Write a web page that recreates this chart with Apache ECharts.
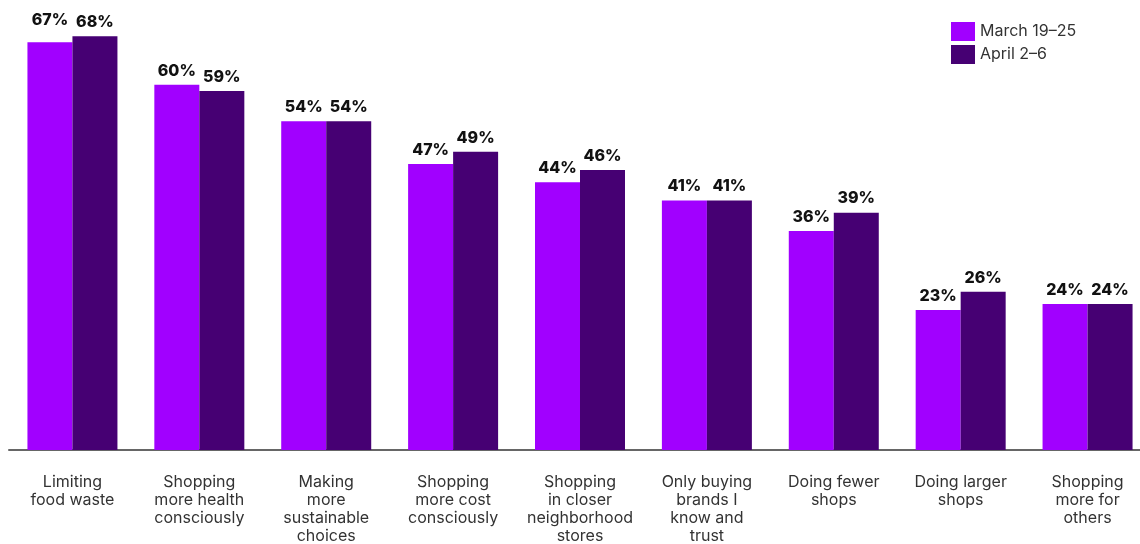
<!DOCTYPE html>
<html>
<head>
<meta charset="utf-8">
<script src="https://cdn.jsdelivr.net/npm/echarts@6/dist/echarts.min.js"></script>
<style>
  html, body { margin: 0; padding: 0; background: #fff; }
  #main { width: 1140px; height: 544px; }
</style>
</head>
<body>
<div id="main"></div>
<script>
  var categories = [
    'Limiting\nfood waste',
    'Shopping\nmore health\nconsciously',
    'Making\nmore\nsustainable\nchoices',
    'Shopping\nmore cost\nconsciously',
    'Shopping\nin closer\nneighborhood\nstores',
    'Only buying\nbrands I\nknow and\ntrust',
    'Doing fewer\nshops',
    'Doing larger\nshops',
    'Shopping\nmore for\nothers'
  ];
  var seriesNames = ['March 19\u201325', 'April 2\u20136'];
  var march = [67, 60, 54, 47, 44, 41, 36, 23, 24];
  var april = [68, 59, 54, 49, 46, 41, 39, 26, 24];

  var myChart = echarts.init(document.getElementById('main'));

  // 67% label sits level with its neighbour in the original
  var marchData = march.map(function (v, i) {
    if (i === 0) return { value: v, label: { offset: [0, -8] } };
    return v;
  });

  var labelStyle = {
    show: true,
    position: 'top',
    distance: 6,
    formatter: '{c}%',
    color: '#111',
    fontFamily: 'Inter',
    fontWeight: 800,
    fontSize: 16
  };

  myChart.setOption({
    animation: false,
    backgroundColor: '#fff',
    // plot runs a little past the right edge, as in the original
    grid: { left: 9, right: -11, top: 24, bottom: 94, outerBoundsMode: 'none', containLabel: false },
    legend: {
      orient: 'vertical',
      left: 951,
      top: 22,
      padding: 0,
      itemWidth: 24,
      itemHeight: 19,
      itemGap: 4,
      icon: 'rect',
      data: seriesNames,
      textStyle: { color: '#333', fontFamily: 'Inter', fontSize: 16, lineHeight: 19 }
    },
    xAxis: {
      type: 'category',
      data: categories,
      axisTick: { show: false },
      axisLine: { lineStyle: { color: '#666', width: 2 } },
      axisLabel: {
        interval: 0,
        margin: 23,
        color: '#333',
        fontFamily: 'Inter',
        fontSize: 16,
        lineHeight: 18
      }
    },
    yAxis: {
      type: 'value',
      min: 0,
      max: 70,
      show: false,
      splitLine: { show: false }
    },
    series: [
      {
        name: seriesNames[0],
        type: 'bar',
        data: marchData,
        barWidth: 45,
        barGap: '0%',
        itemStyle: { color: '#a100ff' },
        label: labelStyle
      },
      {
        name: seriesNames[1],
        type: 'bar',
        data: april,
        barWidth: 45,
        barGap: '0%',
        itemStyle: { color: '#460073' },
        label: labelStyle
      }
    ]
  });
</script>
</body>
</html>
